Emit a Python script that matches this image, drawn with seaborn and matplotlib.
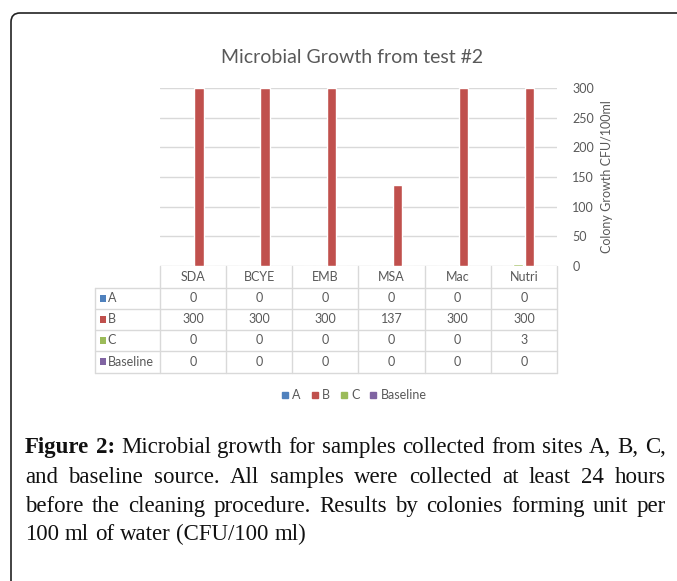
import numpy as np
import pandas as pd
import matplotlib
matplotlib.use("Agg")
import matplotlib.pyplot as plt
import matplotlib.transforms as mtransforms
from matplotlib.patches import FancyBboxPatch, Rectangle
from matplotlib.lines import Line2D
import seaborn as sns

# data
media = ["SDA", "BCYE", "EMB", "MSA", "Mac", "Nutri"]
sites = ["A", "B", "C", "Baseline"]
site_a = [0, 0, 0, 0, 0, 0]
site_b = [300, 300, 300, 137, 300, 300]
site_c = [0, 0, 0, 0, 0, 3]
baseline = [0, 0, 0, 0, 0, 0]
y_ticks = [0, 50, 100, 150, 200, 250, 300]

colors = {"A": "#4F81BD", "B": "#C0504D", "C": "#9BBB59", "Baseline": "#8064A2"}
grey = "#595959"
line_grey = "#D9D9D9"

values = {"A": site_a, "B": site_b, "C": site_c, "Baseline": baseline}
df = pd.DataFrame(
    [(m, s, values[s][i]) for s in sites for i, m in enumerate(media)],
    columns=["medium", "site", "cfu"],
)

sns.set_theme(style="white")
plt.rcParams["font.family"] = ["Lato", "DejaVu Sans"]
fs = 9

W, H = 677, 581
fig = plt.figure(figsize=(W / 100, H / 100), dpi=100)

# overlay in pixel coordinates for the frame and caption
over = fig.add_axes([0, 0, 1, 1], zorder=0)
over.set_xlim(0, W)
over.set_ylim(H, 0)
over.axis("off")
over.add_patch(FancyBboxPatch((11, 13), 720, 620,
                              boxstyle="round,pad=0,rounding_size=9",
                              fc="white", ec="#222222", lw=1.2))

# chart area
ax_l, ax_r, ax_t, ax_b = 160, 557, 88, 266
ax = fig.add_axes([ax_l / W, 1 - ax_b / H, (ax_r - ax_l) / W, (ax_b - ax_t) / H], zorder=2)
sns.barplot(data=df, x="medium", y="cfu", hue="site",
            hue_order=["A", "C", "B", "Baseline"], palette=colors,
            width=0.7, gap=0.2, errorbar=None, legend=False,
            saturation=1, ax=ax, zorder=3)
ax.set_xlim(-0.5, len(media) - 0.5)
ax.set_ylim(0, 300)
ax.set_yticks(y_ticks)
ax.yaxis.tick_right()
ax.yaxis.set_label_position("right")
ax.tick_params(axis="y", length=0, pad=11, labelsize=fs, labelcolor=grey)
ax.tick_params(axis="x", length=0, labelbottom=False)
ax.set_xlabel("")
ax.set_ylabel("Colony Growth CFU/100ml", fontsize=fs, color=grey, labelpad=5)
ax.grid(axis="y", color=line_grey, lw=1, zorder=0)
ax.set_axisbelow(True)
for s in ax.spines.values():
    s.set_visible(False)
ax.patch.set_alpha(0)

ax.set_title("Microbial Growth from test #2", fontsize=14, color=grey, pad=18, x=0.485)

# data table under the chart
px = 1.0 / (ax_b - ax_t)
trans = mtransforms.blended_transform_factory(ax.transData, ax.transAxes)
row_edges = [0, 22, 43, 64, 85, 107]
left_edge = -0.5 - 65 / ((ax_r - ax_l) / len(media))
right_edge = len(media) - 0.5
for e in row_edges[1:]:
    ax.plot([left_edge, right_edge], [-e * px, -e * px], color=line_grey,
            lw=1, transform=trans, clip_on=False)
for k in range(len(media) + 1):
    ax.plot([k - 0.5, k - 0.5], [0, -row_edges[-1] * px], color=line_grey,
            lw=1, transform=trans, clip_on=False)
ax.plot([left_edge, left_edge], [-row_edges[1] * px, -row_edges[-1] * px],
        color=line_grey, lw=1, transform=trans, clip_on=False)

def row_mid(r):
    return -(row_edges[r] + row_edges[r + 1]) / 2 * px

for i, m in enumerate(media):
    ax.text(i, row_mid(0), m, ha="center", va="center", fontsize=fs,
            color=grey, transform=trans)
for r, s in enumerate(sites, start=1):
    for i in range(len(media)):
        ax.text(i, row_mid(r), str(values[s][i]), ha="center", va="center",
                fontsize=fs, color=grey, transform=trans)
    # series key in the row header
    y_mid = row_mid(r)
    ax.add_patch(Rectangle((left_edge + 0.07, y_mid - 3.5 * px), 0.1, 7 * px,
                           fc=colors[s], ec="none", transform=trans, clip_on=False))
    ax.text(left_edge + 0.19, y_mid, s, ha="left", va="center", fontsize=fs,
            color=grey, transform=trans)

# legend
handles = [Line2D([], [], ls="none", marker="s", ms=5, color=colors[s]) for s in sites]
fig.legend(handles, sites, loc="center", bbox_to_anchor=(354 / W, 1 - 395 / H),
           ncol=4, frameon=False, fontsize=fs, handlelength=0.6, handletextpad=0.3,
           columnspacing=0.8, labelcolor=grey)

# justified caption
cap_lines = [
    ("Figure 2:", "Microbial growth for samples collected from sites A, B, C,"),
    ("", "and baseline source. All samples were collected at least 24 hours"),
    ("", "before the cleaning procedure. Results by colonies forming unit per"),
    ("", "100 ml of water (CFU/100 ml)"),
]
cap_base = [453, 483, 512, 540]
x0, x1 = 25, 666
cfs = 16.5
serif = ["Liberation Serif", "DejaVu Serif"]
renderer = fig.canvas.get_renderer()
sp = over.text(0, 0, "a a", fontsize=cfs, family=serif)
sp2 = over.text(0, 0, "aa", fontsize=cfs, family=serif)
space_w = sp.get_window_extent(renderer=renderer).width - sp2.get_window_extent(renderer=renderer).width
sp.remove()
sp2.remove()
for li, ((bold, rest), y) in enumerate(zip(cap_lines, cap_base)):
    words = [(w, "bold") for w in bold.split()] + [(w, "normal") for w in rest.split()]
    texts = [over.text(0, y, w, fontsize=cfs, fontweight=fw, family=serif,
                       va="baseline", ha="left", color="#111111") for w, fw in words]
    widths = [t.get_window_extent(renderer=renderer).width for t in texts]
    if li < len(cap_lines) - 1:
        gap = (x1 - x0 - sum(widths)) / (len(words) - 1)
    else:
        gap = space_w
    x = x0
    for t, w in zip(texts, widths):
        t.set_x(x)
        x += w + gap

fig.savefig("out.png", dpi=100)
